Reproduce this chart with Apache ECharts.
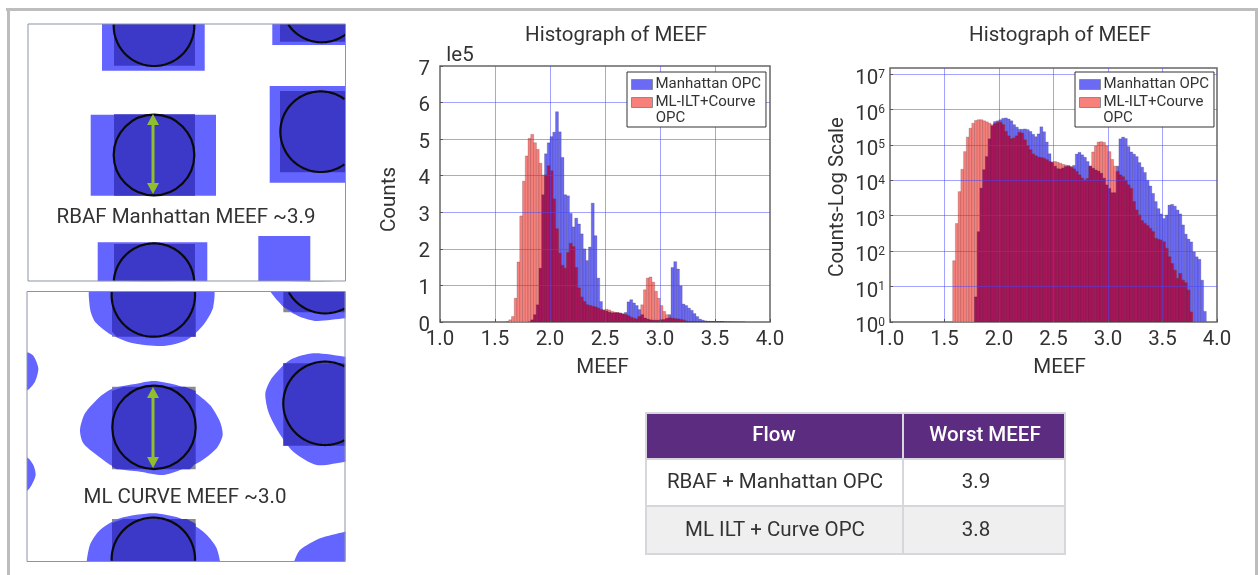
<!DOCTYPE html>
<html><head><meta charset="utf-8">
<style>html,body{margin:0;padding:0;background:#fff}#c{width:1258px;height:575px}</style>
<script src="https://cdn.jsdelivr.net/npm/echarts@6/dist/echarts.min.js"></script>
</head><body><div id="c"></div>
<script>
// --- data ---
const binStart = 1.575, binWidth = 0.025;
const xTicks = [1.0,1.5,2.0,2.5,3.0,3.5,4.0];
const blueName = 'Manhattan OPC';
const redName = 'ML-ILT+Courve OPC';
// linear chart, counts in units of 1e5, one value per bin
const blueLinear = [
 0,0,0,0,0,0,0,0,0,0.003,
 0.06,0.2,0.47,1.47,3.48,4.6,4.9,5.07,5.19,5.75,
 5.2,4.5,3.48,3.45,2.97,2.6,2.84,2.68,2.41,2.0,
 1.68,2.05,3.25,2.36,1.2,0.56,0.33,0.3,0.27,0.25,
 0.25,0.25,0.24,0.22,0.26,0.55,0.61,0.52,0.45,0.34,
 0.2,0.11,0.08,0.06,0.05,0.05,0.05,0.06,0.07,0.1,
 0.2,1.49,1.65,1.45,0.99,0.49,0.45,0.38,0.32,0.23,
 0.15,0.08,0.05,0.03,0.02,0.015,0.01,0.01,0.012,0.015,
 0.015,0.012,0.01,0.008,0.004,0.002,0.002,0.001,0,0,0,0,0];
const redLinear = [
 0,0.005,0.06,0.15,0.65,1.64,2.9,3.85,4.54,5.02,
 5.13,4.9,4.72,4.34,4.02,4.02,4.27,4.13,3.36,2.55,
 1.88,1.55,1.47,1.9,2.15,2.06,1.49,0.93,0.68,0.56,
 0.47,0.45,0.43,0.41,0.38,0.34,0.32,0.35,0.33,0.29,
 0.27,0.26,0.245,0.22,0.2,0.17,0.13,0.1,0.08,0.15,
 0.47,0.88,1.2,1.23,1.09,0.84,0.65,0.45,0.29,0.2,
 0.11,0.1,0.09,0.08,0.07,0.05,0.025,0.014,0.01,0.007,
 0.006,0.005,0.004,0.003,0.002,0.002,0.002,0.002,0.001,0.001,
 0,0,0,0,0,0,0,0,0,0,0,0,0];
// log chart, log10(counts), one value per bin
const blueLogDecades = [
 null,null,null,null,null,null,null,null,0.71,2.55,
 3.78,4.3,4.67,5.17,5.54,5.66,5.68,5.71,5.75,5.76,
 5.73,5.68,5.57,5.5,5.44,5.44,5.45,5.43,5.38,5.3,
 5.23,5.31,5.51,5.37,5.08,4.75,4.52,4.4,4.33,4.32,
 4.35,4.39,4.4,4.37,4.42,4.74,4.79,4.72,4.65,4.53,
 4.4,4.34,4.29,4.26,4.2,4.06,3.87,3.77,3.65,3.65,
 4.4,5.17,5.22,5.18,4.95,4.8,4.74,4.67,4.5,4.37,
 4.22,4.0,3.84,3.63,3.4,3.2,3.05,2.92,3.02,3.3,
 3.32,3.27,3.16,3.05,2.74,2.48,2.34,2.26,1.98,1.84,
 1.77,1.18,0.3];
const redLogDecades = [
 1.73,2.78,3.68,4.31,4.81,5.22,5.47,5.61,5.69,5.71,
 5.71,5.68,5.65,5.61,5.57,5.6,5.63,5.64,5.57,5.38,
 5.25,5.17,5.19,5.25,5.35,5.33,5.14,4.97,4.86,4.74,
 4.69,4.65,4.64,4.62,4.58,4.53,4.5,4.53,4.51,4.48,
 4.45,4.43,4.42,4.39,4.32,4.25,4.15,4.06,4.0,4.05,
 4.4,4.8,4.97,5.08,5.09,5.07,4.97,4.81,4.59,4.4,
 4.25,4.15,4.1,4.0,3.87,3.77,3.4,3.16,3.02,2.86,
 2.78,2.72,2.64,2.55,2.36,2.33,2.31,2.26,2.08,1.84,
 1.65,1.46,1.23,1.37,1.18,1.11,0.9,0.28,null,null,
 null,null,null];
const tableHeader = ['Flow','Worst MEEF'];
const tableFlows = ['RBAF + Manhattan OPC','ML ILT + Curve OPC'];
const tableWorst = ['3.9','3.8'];

// --- styles ---
const FONT='Roboto', TXT='#333', LIGHT='#6464ff', DARK='#3c39c9', GREEN='#8fc02c', FS=20.5;
const C_BLUE='#6a6af5', C_RED='#f8807a', C_BOTH='#a8155a';

const centre = i => +(binStart + binWidth*(i+0.5)).toFixed(4);
const present = p => p[1]!=null && p[1]>0;
const toLinear = a => a.map((v,i)=>[centre(i), v]).filter(present);
const toCounts = a => a.map((v,i)=>[centre(i), v==null?null:Math.pow(10,v)]).filter(present);
function both(a,b){
  const m=new Map(b.map(p=>[p[0],p[1]]));
  return a.filter(p=>m.has(p[0])).map(p=>[p[0],Math.min(p[1],m.get(p[0]))]);
}
// histogram bar: bin edges and value go through the axis scales
function bars(name,data,color,xi,yi,z,base){
  return {type:'custom',name,data,xAxisIndex:xi,yAxisIndex:yi,z,silent:true,clip:true,
    itemStyle:{color},encode:{x:0,y:1},
    renderItem:(params,api)=>{
      const x=api.value(0), v=api.value(1);
      const l=api.coord([x-binWidth/2,v]), r=api.coord([x+binWidth/2,base]);
      return {type:'rect',shape:{x:l[0],y:l[1],width:r[0]-l[0]+0.2,height:r[1]-l[1]},
        style:{fill:color,stroke:'rgba(60,40,60,0.42)',lineWidth:0.5}};
    }};
}
const tick={show:true,inside:true,length:3,lineStyle:{color:'#555'}};
const gridLine={show:true,showMinLine:false,showMaxLine:false,lineStyle:{color:'rgba(70,70,255,0.5)',width:1}};
const axisLine={show:false};
const lab={color:TXT,fontFamily:FONT,fontSize:FS};
function xAxis(gi,pad){return {type:'value',gridIndex:gi,min:1,max:4,interval:0.5,z:5,
  name:'MEEF',nameLocation:'middle',nameGap:35,nameTextStyle:Object.assign({},lab,{padding:pad}),
  axisLine,axisTick:tick,splitLine:gridLine,
  axisLabel:Object.assign({},lab,{margin:7,formatter:v=>v.toFixed(1)})};}
const swatchEdge={borderColor:'#8a8a96',borderWidth:1};
function legend(left,top){return {show:true,orient:'vertical',left,top,z:10,
  data:[{name:blueName,icon:'rect',itemStyle:Object.assign({color:C_BLUE},swatchEdge)},
        {name:redName,icon:'rect',itemStyle:Object.assign({color:C_RED},swatchEdge)}],
  itemWidth:21,itemHeight:10,itemGap:3,
  padding:[5,5,17,4],backgroundColor:'#fff',borderColor:'#333',borderWidth:1,borderRadius:0,
  formatter:n=>n===redName?'ML-ILT+Courve':n,
  textStyle:{color:TXT,fontFamily:FONT,fontSize:15,padding:[0,0,0,-2]},selectedMode:false};}

const titleStyle={color:TXT,fontFamily:FONT,fontSize:FS,fontWeight:'normal'};
const option={animation:false,backgroundColor:'#fff',
 title:[
  {text:'Histograph of MEEF',left:611,top:20,textAlign:'center',textStyle:titleStyle},
  {text:'Histograph of MEEF',left:1055,top:20,textAlign:'center',textStyle:titleStyle}],
 grid:[
  {left:440,top:66,width:330,height:256,show:true,backgroundColor:'#fff',borderColor:'#666',borderWidth:1.5},
  {left:890,top:68,width:327,height:254,show:true,backgroundColor:'#fff',borderColor:'#666',borderWidth:1.5}],
 legend:[legend(627,72),legend(1075,72)],
 xAxis:[xAxis(0,[0,5,0,0]),xAxis(1,[0,0,0,12])],
 yAxis:[
  {type:'value',gridIndex:0,min:0,max:7,interval:1,z:5,name:'Counts',nameLocation:'middle',nameGap:40,
   nameTextStyle:Object.assign({},lab,{padding:[0,11,0,0]}),
   axisLine,axisTick:tick,splitLine:gridLine,
   axisLabel:Object.assign({},lab,{margin:10,padding:[7,0,0,0],formatter:v=>'{b|'+v+'}',
     rich:{b:{fontFamily:FONT,fontSize:FS,color:TXT}}})},
  {type:'log',logBase:10,gridIndex:1,min:1,max:14800000,z:5,name:'Counts-Log Scale',nameLocation:'middle',nameGap:42,
   nameTextStyle:Object.assign({},lab,{padding:[0,4,0,0]}),
   axisLine,axisTick:tick,splitLine:gridLine,
   axisLabel:Object.assign({},lab,{margin:5,showMaxLabel:false,padding:[10,0,0,0],
     formatter:v=>'{b|10}{s|'+Math.round(Math.log10(v))+'}',
     rich:{b:{fontFamily:FONT,fontSize:FS,color:TXT},
           s:{fontFamily:FONT,fontSize:12,color:TXT,verticalAlign:'top',padding:[0,0,6,0]}}})}],
 series:[
  bars(blueName,toLinear(blueLinear),C_BLUE,0,0,2,0),
  bars(redName,toLinear(redLinear),C_RED,0,0,3,0),
  bars('overlap',both(toLinear(blueLinear),toLinear(redLinear)),C_BOTH,0,0,4,0),
  bars(blueName,toCounts(blueLogDecades),C_BLUE,1,1,2,1),
  bars(redName,toCounts(redLogDecades),C_RED,1,1,3,1),
  bars('overlap',both(toCounts(blueLogDecades),toCounts(redLogDecades)),C_BOTH,1,1,4,1)],
 graphic:{elements:buildGraphic()}
};

function rect(x,y,w,h,fill,extra){return Object.assign({type:'rect',shape:{x,y,width:w,height:h},style:{fill},silent:true},extra||{});}
function text(t,x,y,size,fill,weight,extra){return Object.assign({type:'text',x,y,style:{text:t,fill:fill||TXT,fontFamily:FONT,fontSize:size||FS,fontWeight:weight||'normal',align:'center',verticalAlign:'middle'},silent:true},extra||{});}
function poly(pts,fill,smooth){return {type:'polygon',shape:{points:pts,smooth:smooth||0},style:{fill},silent:true};}
// circle outline cropped to a frame box: one polyline per visible run
function circleIn(cx,cy,r,box){
  const pts=[];for(let a=0;a<360;a+=2){const t=a*Math.PI/180;pts.push([cx+r*Math.cos(t),cy+r*Math.sin(t)]);}
  const inside=p=>p[0]>=box[0]&&p[0]<=box[2]&&p[1]>=box[1]&&p[1]<=box[3];
  let start=pts.findIndex(p=>!inside(p));
  if(start<0)return [{type:'circle',shape:{cx,cy,r},style:{fill:'none',stroke:'#0a0a0a',lineWidth:2.2},silent:true}];
  const runs=[];let cur=[];
  for(let k=0;k<=pts.length;k++){const p=pts[(start+k)%pts.length];
    if(inside(p))cur.push(p);else{if(cur.length>1)runs.push(cur);cur=[];}}
  if(cur.length>1)runs.push(cur);
  return runs.map(points=>({type:'polyline',shape:{points},style:{fill:'none',stroke:'#0a0a0a',lineWidth:2.2},silent:true}));
}
function arrow(x,y0,y1){return [
  rect(x-1.5,y0+8,3,y1-y0-16,GREEN),
  poly([[x,y0],[x+6,y0+11],[x-6,y0+11]],GREEN),
  poly([[x,y1],[x+6,y1-11],[x-6,y1-11]],GREEN)];}

function buildGraphic(){
  const g=[];
  const box1=[28,24,345.5,281], box2=[27,291.5,345,561.5];
  // first picture (RBAF Manhattan)
  [[102,24,102.7,46.7],[272.3,24,73.4,21],[90.7,114.7,125.3,81],[269.7,86,76,96.7],[97.7,242.3,109.6,39],[258.3,236,52,45]]
    .forEach(r=>g.push(rect(r[0],r[1],r[2],r[3],LIGHT)));
  [[114,24,81,41.7],[280,24,66,17.7],[114,114.3,81,81.4],[280,91,66,81.3],[114,244,81,37]]
    .forEach(r=>g.push(rect(r[0],r[1],r[2],r[3],DARK)));
  // second picture (ML curve): outlines traced at 3x crop scale from (0,285)
  const z=p=>p.map(q=>[q[0]/3,285+q[1]/3]);
  const blobs=[
   [[240,435],[255,385],[300,335],[340,310],[400,298],[460,288],[520,298],[580,320],[630,360],[660,410],[668,450],[650,490],[600,530],[540,555],[490,570],[420,560],[350,550],[290,510],[250,475]],
   [[275,0],[270,70],[285,110],[335,150],[400,175],[490,183],[560,165],[610,120],[640,65],[635,0]],
   [[805,0],[850,65],[900,95],[950,108],[1035,100],[1060,100],[1060,0]],
   [[80,203],[100,212],[115,250],[105,290],[80,315],[40,260]],
   [[80,518],[100,540],[107,570],[95,600],[80,617],[40,570]],
   [[1060,220],[1035,215],[940,205],[870,225],[815,280],[796,325],[805,380],[835,440],[880,500],[950,540],[1035,530],[1060,525]],
   [[268,860],[268,785],[300,735],[360,700],[460,685],[540,700],[610,740],[650,790],[655,860]],
   [[870,860],[882,830],[900,795],[960,760],[1035,740],[1060,735],[1060,860]]];
  [[336,20,251,135],[850,20,195,62],[336,305,251,248],[850,235,195,247],[336,702,251,130]].forEach(r=>{
    g.push(rect(r[0]/3,285+r[1]/3,r[2]/3,r[3]/3,'#8a8a8a'));});
  blobs.forEach(b=>g.push(poly(z(b),LIGHT,0.25)));
  [[[336,0],[587,0],[587,155],[350,155],[336,140]],
   [[850,0],[1045,0],[1045,82],[880,82],[850,65]],
   [[370,305],[555,305],[587,318],[587,535],[570,553],[350,553],[336,545],[336,318]],
   [[850,235],[1045,235],[1045,482],[850,482]],
   [[370,702],[560,702],[587,716],[587,872],[336,872],[336,714]]]
    .forEach(b=>g.push(poly(z(b),DARK)));
  // masks that crop the filled shapes to the second frame (first-picture shapes end on their frame)
  g.push(rect(0,281.5,375,10,'#fff'),rect(0,561.5,375,14,'#fff'),rect(345.5,0,30,575,'#fff'),rect(0,282,27,293,'#fff'));
  [[154,25.7],[321.7,2],[154,155],[320.7,131.7],[154,283.7]].forEach(c=>g.push(...circleIn(c[0],c[1],40.3,box1)));
  [[460,30],[975,-40],[462,427],[975,355],[460,823]].forEach(c=>g.push(...circleIn(c[0]/3,285+c[1]/3,41.7,box2)));
  g.push(...arrow(153,114,194),...arrow(153,387,468));
  g.push(text('RBAF Manhattan MEEF ~3.9',186,218),text('ML CURVE MEEF ~3.0',185,498));
  g.push(rect(28,24,317.5,257,'none',{style:{fill:'none',stroke:'#8a93a8',lineWidth:1}}));
  g.push(rect(27,291.5,318,270,'none',{style:{fill:'none',stroke:'#8a93a8',lineWidth:1}}));
  // outer page frame
  g.push(rect(6,8,1252,3,'#bdbdbd'),rect(7,8,3,567,'#bdbdbd'),rect(1255,8,3,567,'#bdbdbd'));
  // exponent marker, wrapped second line of the legends
  g.push(text('le5',460,56,FS));
  g.push(text('OPC',670.5,118.5,15,TXT,'normal',{z:20}),text('OPC',1118,118.5,15,TXT,'normal',{z:20}));
  // table
  const tL=645,tM=903,tR=1066,tT=412,h1=459,h2=506,tB=555,B='#d6d6dc';
  g.push(rect(tL,tT,tR-tL,tB-tT,'#fff'),rect(tL,tT,tR-tL,h1-tT,'#5b2c7f'),rect(tL,h2,tR-tL,tB-h2,'#efefef'));
  [[tL,tT,2,tB-tT],[tM-1,tT,2,tB-tT],[tR-2,tT,2,tB-tT],[tL,tT,tR-tL,2],[tL,h1-1,tR-tL,2],[tL,h2-1,tR-tL,2],[tL,tB-2,tR-tL,2]]
    .forEach(r=>g.push(rect(r[0],r[1],r[2],r[3],B)));
  g.push(text(tableHeader[0],774,436,FS,'#fff','500'),text(tableHeader[1],985,436,FS,'#fff','500'));
  tableFlows.forEach((t,i)=>{const y=[483,531][i];
    g.push(text(t,775,y,FS),text(tableWorst[i],976,y,FS));});
  return g;
}
const chart=echarts.init(document.getElementById('c'),null,{renderer:'canvas'});
chart.setOption(option);
</script></body></html>
